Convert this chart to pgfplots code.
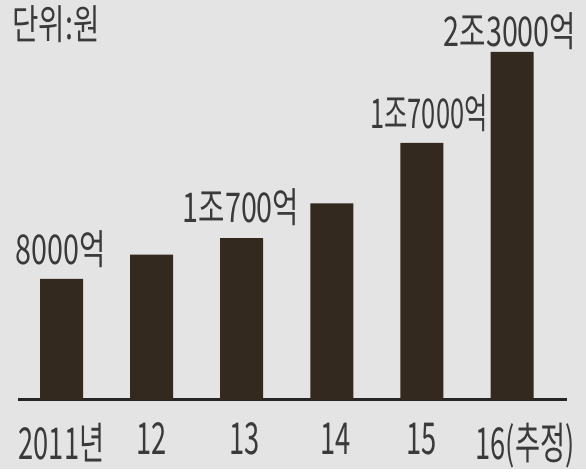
\documentclass[border=0pt]{standalone}
\usepackage{fontspec}
\usepackage{pgfplots}
\pgfplotsset{compat=1.18}
\newfontfamily\kr[FakeStretch=0.70]{Noto Sans CJK KR}
\newfontfamily\krn[FakeStretch=0.62]{Noto Sans CJK KR}
\definecolor{bg}{HTML}{E4E4E4}
\definecolor{barc}{HTML}{33291F}
\definecolor{txt}{HTML}{3A3A3A}
\begin{document}
\begin{tikzpicture}[x=1pt,y=1pt]
\fill[bg] (0,0) rectangle (586,469);
\begin{axis}[
  at={(18pt,69pt)}, anchor=south west,
  scale only axis, width=549pt, height=348pt,
  xmin=-0.483, xmax=5.61, ymin=0, ymax=23000,
  axis y line=none, axis x line=bottom,
  axis line style={-, line width=3pt, color=black!85},
  xtick={0,1,2,3,4,5},
  xticklabels={{2011년\hspace{11pt}},{12\hspace{24pt}},{\hspace{5pt}13},{\hspace{8pt}14},{15},{\hspace{26pt}16(추정)}},
  xtick style={draw=none},
  ticklabel style={font=\krn\fontsize{44}{46}\selectfont, text=txt},
  xticklabel style={yshift=-17pt},
  ytick=\empty,
  clip=false,
]
\addplot[ybar, bar width=43pt, bar shift=0pt, fill=barc, draw=none]
  coordinates {(0,8000) (1,9600) (2,10700) (3,13000) (4,17000) (5,23000)};
\end{axis}
\begin{scope}[every node/.style={font=\kr\fontsize{41}{44}\selectfont, text=txt, inner sep=0pt, anchor=center}]
\node at (56,445) {단위:원};
\node at (61,220) {8000억};
\node at (241,262) {1조700억};
\node[font=\krn\fontsize{41}{44}\selectfont] at (429,356) {1조7000억};
\node at (510,438) {2조3000억};
\end{scope}
\end{tikzpicture}
\end{document}
